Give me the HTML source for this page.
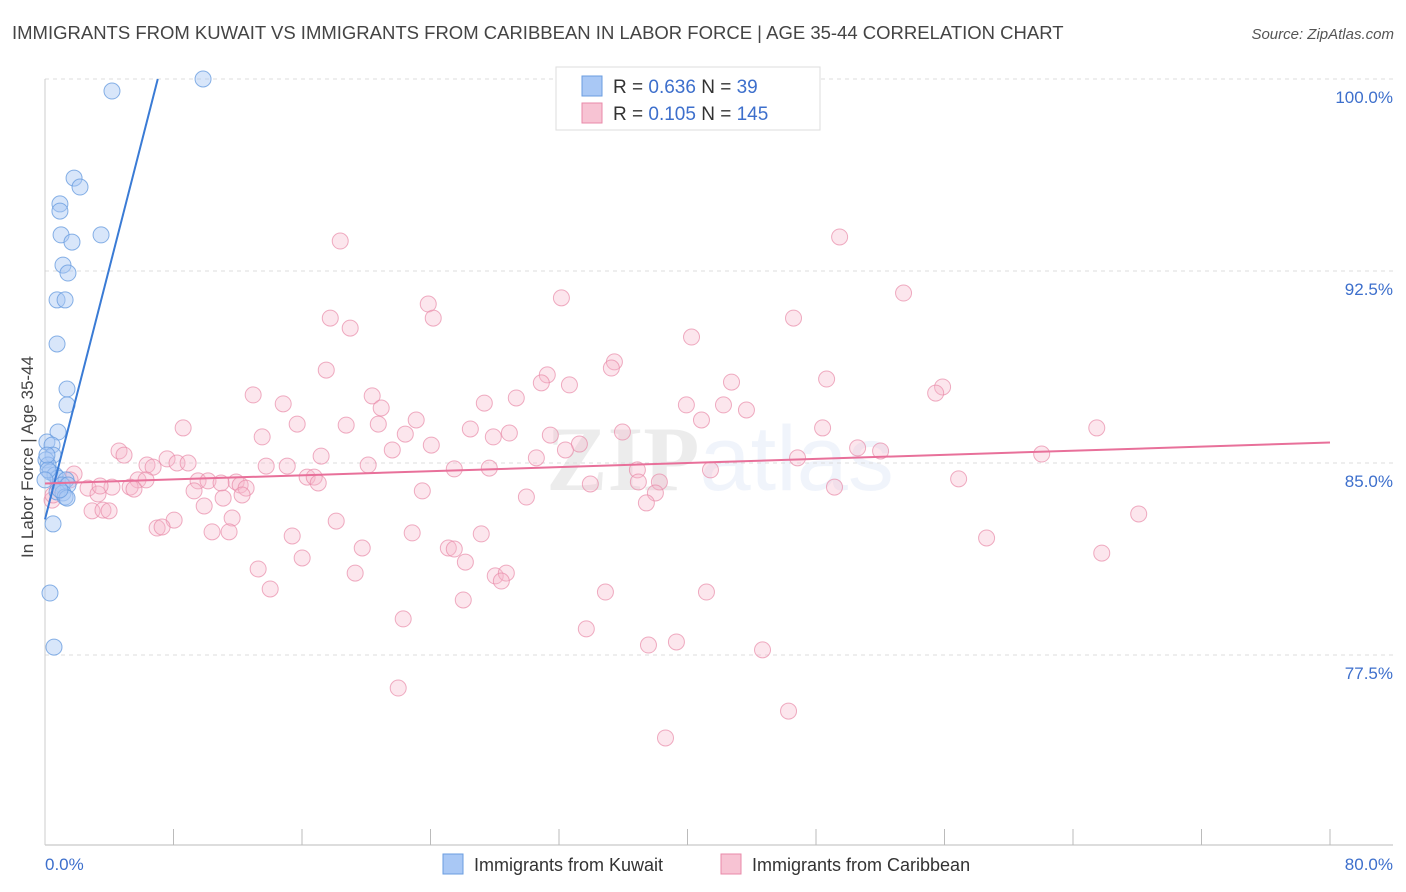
<!DOCTYPE html>
<html><head><meta charset="utf-8"><style>
body{margin:0;background:#fff;font-family:"Liberation Sans",sans-serif;}
svg{display:block}
</style></head><body>
<svg id="chart" width="1406" height="892" xmlns="http://www.w3.org/2000/svg">
<text x="12" y="39" font-size="18.5" fill="#444" font-family="Liberation Sans, sans-serif">IMMIGRANTS FROM KUWAIT VS IMMIGRANTS FROM CARIBBEAN IN LABOR FORCE | AGE 35-44 CORRELATION CHART</text>
<text x="1394" y="39" font-size="15" fill="#555" text-anchor="end" font-style="italic">Source: ZipAtlas.com</text>
<text x="720" y="490" font-size="92" text-anchor="middle" fill="#000" opacity="0.07" font-family="Liberation Serif, serif" font-weight="bold">ZIP<tspan fill="#3d6fcc" font-family="Liberation Sans, sans-serif" font-weight="normal" opacity="1">atlas</tspan></text>
<g id="grid"></g>
<g id="axes"></g>
<g id="points"></g>
<g id="trends"></g>
<text transform="translate(33,457) rotate(-90)" font-size="17" fill="#444" text-anchor="middle">In Labor Force | Age 35-44</text>
<text x="45" y="870" font-size="17" fill="#3d6fcc">0.0%</text>
<text x="1393" y="870" font-size="17" fill="#3d6fcc" text-anchor="end">80.0%</text>
<g>
<rect x="556" y="67" width="264" height="63" fill="#fff" stroke="#ddd"/>
<rect x="582" y="76" width="20" height="20" fill="#a9c8f5" stroke="#6a9de0"/>
<rect x="582" y="103" width="20" height="20" fill="#f7c3d3" stroke="#e88aa8"/>
<text x="613" y="93" font-size="19" fill="#333">R = <tspan fill="#3d6fcc">0.636</tspan>   N = <tspan fill="#3d6fcc">  39</tspan></text>
<text x="613" y="120" font-size="19" fill="#333">R = <tspan fill="#3d6fcc">0.105</tspan>   N = <tspan fill="#3d6fcc">145</tspan></text>
</g>
<g>
<rect x="443" y="854" width="20" height="20" fill="#a9c8f5" stroke="#6a9de0"/>
<text x="474" y="871" font-size="18" fill="#333">Immigrants from Kuwait</text>
<rect x="721" y="854" width="20" height="20" fill="#f7c3d3" stroke="#e88aa8"/>
<text x="752" y="871" font-size="18" fill="#333">Immigrants from Caribbean</text>
</g>
</svg>
<script>
const yTicks=[100,92.5,85,77.5];
const yTickLabels=["100.0%","92.5%","85.0%","77.5%"];
const xTicks=[8,16,24,32,40,48,56,64,72,80];
const kuwaitX=[9.84,4.17,1.81,2.18,0.93,0.93,3.49,1.00,1.68,1.12,1.43,0.75,1.25,0.75,1.37,1.37,0.81,0.12,0.44,0.50,0.06,0.19,0.31,0.62,0.81,1.31,1.06,1.43,0.75,1.12,1.25,1.37,0.50,0.31,0.56,0.19,0.0,0.93,0.12];
const kuwaitY=[100,99.53,96.13,95.78,95.12,94.84,93.91,93.91,93.63,92.73,92.42,91.37,91.37,89.65,87.89,87.27,86.21,85.82,85.70,85.31,85.12,84.92,84.65,84.53,84.41,84.34,84.14,84.14,83.87,83.83,83.67,83.63,82.62,79.92,77.81,84.73,84.34,83.95,85.31];
const caribX=[18.38,49.47,53.45,32.15,23.86,17.76,24.17,19.00,46.60,40.25,35.45,35.26,17.51,31.27,30.90,32.65,42.74,48.66,55.88,55.45,12.96,20.37,29.34,27.35,20.93,14.83,42.24,43.67,39.93,23.11,15.70,18.75,20.75,40.87,8.60,26.48,35.95,48.41,65.48,13.52,22.43,28.91,27.91,31.46,33.27,24.05,4.61,4.92,32.40,21.62,17.19,50.59,52.02,62.05,46.85,7.60,6.35,6.73,8.22,8.91,13.77,15.08,20.12,25.48,27.66,30.59,36.88,41.43,1.81,5.79,6.29,9.53,10.15,11.90,12.15,10.96,16.32,16.76,17.01,33.95,36.94,38.25,56.88,2.68,4.17,5.30,5.54,9.28,12.52,12.27,3.30,11.09,23.49,29.97,38.00,37.44,49.15,9.91,2.93,3.61,3.99,11.65,8.04,6.98,7.29,10.40,11.46,18.13,22.86,27.16,15.39,58.62,68.09,19.75,25.11,25.48,26.17,16.01,13.27,19.31,28.03,28.72,28.41,14.02,34.89,41.18,26.04,22.30,33.70,37.57,39.31,44.67,21.99,46.29,38.63,65.79,0.44,0.50,0.81,1.56,3.43];
const caribY=[93.67,93.83,91.64,91.45,91.21,90.66,90.66,90.27,90.66,89.92,88.95,88.71,88.63,88.44,88.13,88.05,88.16,88.28,87.97,87.73,87.66,87.62,87.54,87.34,87.15,87.31,87.27,87.07,87.27,86.68,86.52,86.48,86.52,86.68,86.37,86.33,86.21,86.37,86.37,86.02,86.13,86.17,86.02,86.09,85.74,85.70,85.47,85.31,85.51,85.51,85.27,85.59,85.47,85.35,85.20,85.16,84.92,84.84,85.00,85.00,84.88,84.88,84.92,84.77,84.80,85.20,84.73,84.73,84.57,84.34,84.34,84.30,84.30,84.26,84.14,84.22,84.45,84.45,84.22,84.18,84.26,84.26,84.38,84.02,84.06,84.06,83.98,83.91,84.02,83.75,83.79,83.63,83.91,83.67,83.83,83.44,84.06,83.32,83.13,83.16,83.13,82.85,82.77,82.46,82.50,82.31,82.31,82.73,82.27,82.23,82.15,82.07,83.01,81.68,81.68,81.64,81.13,81.29,80.86,80.70,80.59,80.70,80.39,80.08,79.96,79.96,79.65,78.91,78.52,77.89,78.01,77.70,76.21,75.31,74.26,81.48,83.55,83.75,84.14,84.34,84.10];
const kuwaitTrend=[82.8,2.45]; // intercept, slope
const caribTrend=[84.2,0.02];

const X0=45,X1=1330,Y0=70,Y1=100;
function sx(v){return X0+(v/80)*(X1-X0);}
function sy(v){return 79+(100-v)*25.6;}
const NS="http://www.w3.org/2000/svg";
function mk(tag,attrs,parent){const e=document.createElementNS(NS,tag);for(const k in attrs)e.setAttribute(k,attrs[k]);parent.appendChild(e);return e;}
const grid=document.getElementById('grid'),axes=document.getElementById('axes'),pts=document.getElementById('points'),tr=document.getElementById('trends');
yTicks.forEach((t,i)=>{
  const l=mk('line',{x1:45,x2:1393,y1:sy(t),y2:sy(t),stroke:'#ddd','stroke-dasharray':'4,4'},grid);
  
  
  const tx=mk('text',{x:1393,y:sy(t)+24,'font-size':17,fill:'#3d6fcc','text-anchor':'end'},grid);
  tx.textContent=yTickLabels[i];
  
  
});
const xa=mk('line',{x1:45,x2:1393,y1:845,y2:845,stroke:'#bbb'},axes);


const ya=mk('line',{x1:45,x2:45,y1:79,y2:845,stroke:'#ccc'},axes);


xTicks.forEach(t=>{
  const l=mk('line',{x1:sx(t),x2:sx(t),y1:829,y2:845,stroke:'#bbb'},axes);
  
  
});
caribX.forEach((x,i)=>{
  const c=mk('circle',{cx:sx(x),cy:sy(caribY[i]),r:8,fill:'#f7b8cb','fill-opacity':0.35,stroke:'#e88aa8','stroke-opacity':0.7},pts);
  
  
});
kuwaitX.forEach((x,i)=>{
  const c=mk('circle',{cx:sx(x),cy:sy(kuwaitY[i]),r:8,fill:'#a9c8f5','fill-opacity':0.45,stroke:'#6a9de0','stroke-opacity':0.8},pts);
  
  
});
const xEndK=(100-kuwaitTrend[0])/kuwaitTrend[1];
const lk=mk('line',{x1:sx(0),y1:sy(kuwaitTrend[0]),x2:sx(xEndK),y2:sy(100),stroke:'#3a7bd5','stroke-width':2},tr);


const lc=mk('line',{x1:sx(0),y1:sy(caribTrend[0]),x2:sx(80),y2:sy(caribTrend[0]+caribTrend[1]*80),stroke:'#e8709a','stroke-width':2},tr);


</script>
</body></html>
